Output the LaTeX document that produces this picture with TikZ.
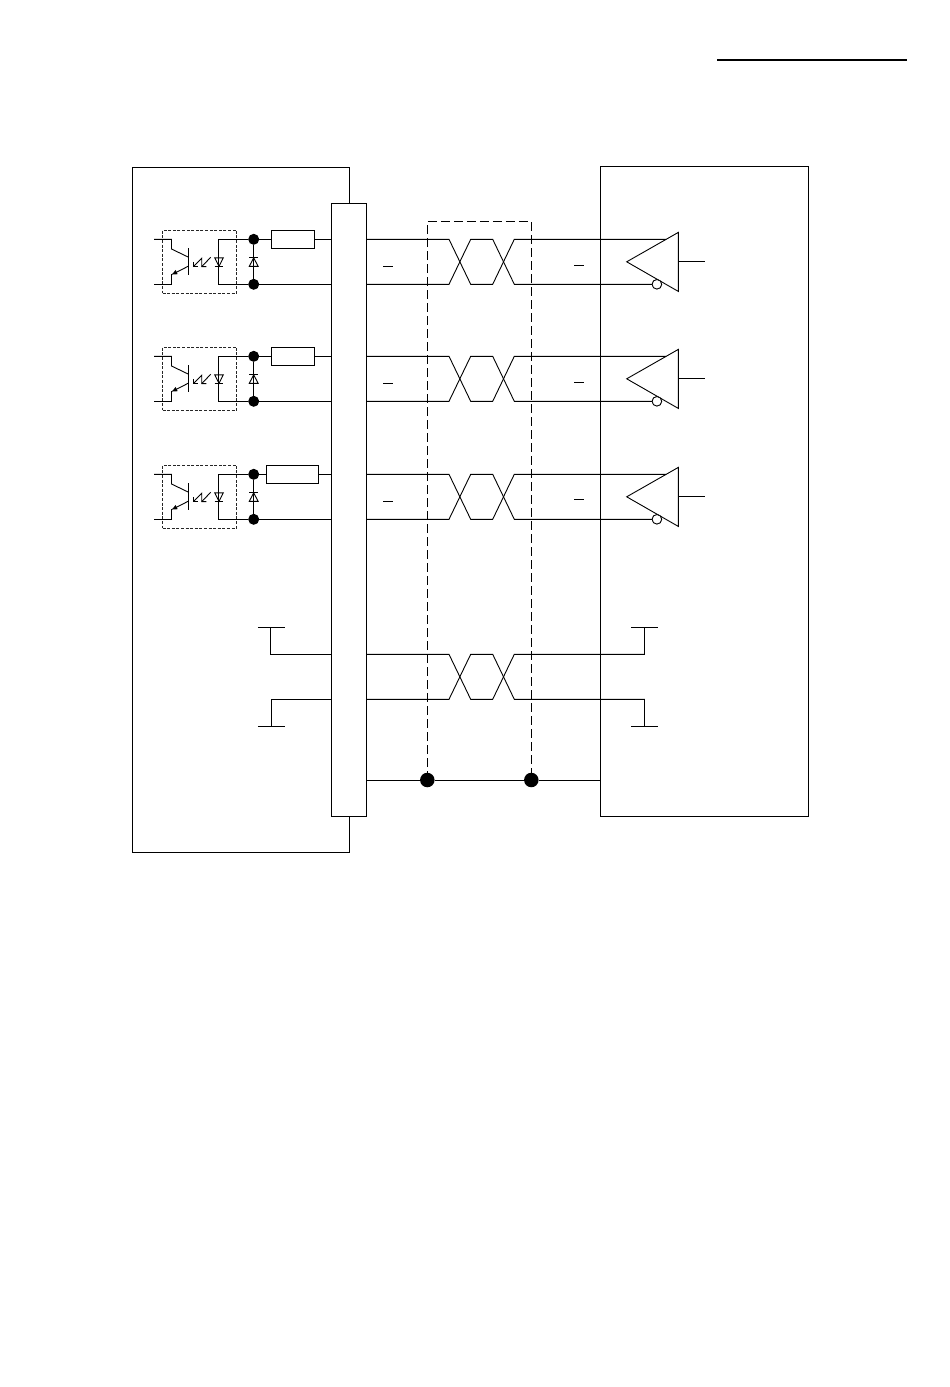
\documentclass[tikz,border=0pt]{standalone}
\usetikzlibrary{arrows.meta}
\tikzset{
  wire/.style={draw=black,line width=0.9pt,line join=miter},
  boxnode/.style={draw=black,line width=0.9pt,fill=white,rectangle,inner sep=0pt,outer sep=0pt},
  dotnode/.style={circle,fill=black,draw=none,inner sep=0pt,outer sep=0pt,minimum size=#1},
  bubble/.style={circle,fill=white,draw=black,line width=0.8pt,inner sep=0pt,outer sep=0pt,minimum size=9.5pt},
  optobox/.style={draw=black!85,line width=0.8pt,dash pattern=on 3pt off 1.6pt,rectangle,inner sep=0pt,outer sep=0pt},
  shield/.style={draw=black,line width=0.8pt,dash pattern=on 9pt off 4pt}
}
\begin{document}
\begin{tikzpicture}[x=1pt,y=-1pt]
\useasboundingbox (0,0) rectangle (950,1387);
\fill[white] (0,0) rectangle (950,1387);
% header rule
\coordinate (ruleL) at (717,60);
\coordinate (ruleR) at (907,60);
\draw[line width=1.3pt] (ruleL) -- (ruleR);
% outer boxes
\node[boxnode,anchor=north west,minimum width=217pt,minimum height=685pt] (left) at (132.5,167.5) {};
\node[boxnode,anchor=north west,minimum width=208pt,minimum height=650pt] (right) at (600.5,166.5) {};
% shield
\coordinate (shA) at (427.3,780);
\coordinate (shB) at (531.3,780);
\coordinate (shAt) at (427.3,221.5);
\coordinate (shBt) at (531.3,221.5);
\draw[shield] (shA) -- (shAt) -- (shBt) -- (shB);
% connector
\node[boxnode,anchor=north west,minimum width=35pt,minimum height=613pt] (conn) at (331.5,203) {};
% shield drain
\node[dotnode=14.5pt] (dA) at (shA) {};
\node[dotnode=14.5pt] (dB) at (shB) {};
\coordinate (drainL) at (366.5,780);
\coordinate (drainR) at (600.5,780);
\draw[wire] (drainL) -- (dA) -- (dB) -- (drainR);
% signal channels
\foreach \i/\y/\rw/\rc/\ma/\mb in {1/239.3/43/292.8/266/265,2/356.3/43/292.8/383/382,3/474.3/52/292.5/501/499}{
  \pgfmathsetmacro{\b}{\y+45}
  \pgfmathsetmacro{\c}{\y+22.5}
  \pgfmathsetmacro{\boxc}{\y+22.3}
  % optocoupler
  \node[optobox,minimum width=74pt,minimum height=63pt] (opto\i) at (199.5,\boxc) {};
  \node[dotnode=11pt] (top\i) at (253.7,\y) {};
  \node[dotnode=11pt] (bot\i) at (253.7,\b) {};
  \node[boxnode,minimum width=\rw pt,minimum height=18pt] (res\i) at (\rc,\y) {};
  \coordinate (pinT\i) at (331.5,\y);
  \coordinate (pinB\i) at (331.5,\b);
  \draw[wire] (top\i) -- (res\i);
  \draw[wire] (res\i) -- (pinT\i);
  \draw[wire] (bot\i) -- (pinB\i);
  \draw[wire] (top\i) -- (bot\i);
  \draw[wire] (top\i) -- (218.8,\y) -- (218.8,\b) -- (bot\i);
  % diode in optocoupler
  \draw[wire] (214.7,\y+18.5) -- (223.3,\y+18.5) -- (219,\y+27) -- cycle;
  \draw[wire] (214.7,\y+27) -- (223.3,\y+27);
  % clamp diode
  \draw[wire] (249.3,\y+18.5) -- (258.1,\y+18.5);
  \draw[wire] (249.3,\y+27) -- (258.1,\y+27) -- (253.7,\y+18.5) -- cycle;
  % light arrows
  \draw[wire] (193.3,\y+22.5) -- (193.3,\y+27.3) -- (198.3,\y+27.3);
  \draw[wire] (193.3,\y+27.3) -- (201.7,\y+19) -- (201.7,\y+27.3) -- (206.3,\y+27.3);
  \draw[wire] (201.7,\y+27.3) -- (210.7,\y+18);
  % transistor
  \draw[wire] (154,\y) -- (171.5,\y) -- (171.5,\y+9.7) -- (188.7,\y+18);
  \draw[wire] (188.7,\y+8.7) -- (188.7,\y+35.7);
  \draw[wire,-{Latex[length=6pt,width=5pt]}] (188.7,\y+26.7) -- (171.3,\y+35.5);
  \draw[wire] (171.5,\y+34.7) -- (171.5,\b) -- (154,\b);
  % pair to receiver
  \node[bubble] (inv\i) at (656.9,\b) {};
  \coordinate (outT\i) at (366.5,\y);
  \coordinate (outB\i) at (366.5,\b);
  \draw[wire] (outT\i) -- (449,\y) -- (470.7,\b) -- (492.7,\b) -- (514.3,\y) -- (666,\y);
  \draw[wire] (outB\i) -- (449,\b) -- (470.7,\y) -- (492.7,\y) -- (514.3,\b) -- (inv\i);
  % receiver
  \draw[wire] (626.7,\c) -- (678.3,\c-29.4) -- (678.3,\c+29.6) -- cycle;
  \draw[wire] (678.3,\c) -- (705,\c);
  \node[bubble] at (inv\i) {};
  % overbars
  \draw[line width=0.8pt] (383.3,\ma) -- (393.3,\ma);
  \draw[line width=0.8pt] (574,\mb) -- (584,\mb);
}
% power and ground pair
\coordinate (vL) at (270.6,627);
\coordinate (gL) at (271,726);
\coordinate (vR) at (644.5,627);
\coordinate (gR) at (644.5,726);
\coordinate (pa) at (331.5,654.3);
\coordinate (pb) at (331.5,699.3);
\coordinate (qa) at (366.5,654.3);
\coordinate (qb) at (366.5,699.3);
\draw[wire] (257.8,627) -- (284.5,627);
\draw[wire] (257.8,726) -- (284.5,726);
\draw[wire] (631,627) -- (657.7,627);
\draw[wire] (631,726) -- (657.7,726);
\draw[wire] (vL) |- (pa);
\draw[wire] (gL) |- (pb);
\draw[wire] (qa) -- (449,654.3) -- (470.7,699.3) -- (492.7,699.3) -- (514.3,654.3) -- (644.5,654.3) -- (vR);
\draw[wire] (qb) -- (449,699.3) -- (470.7,654.3) -- (492.7,654.3) -- (514.3,699.3) -- (644.5,699.3) -- (gR);
\end{tikzpicture}
\end{document}
